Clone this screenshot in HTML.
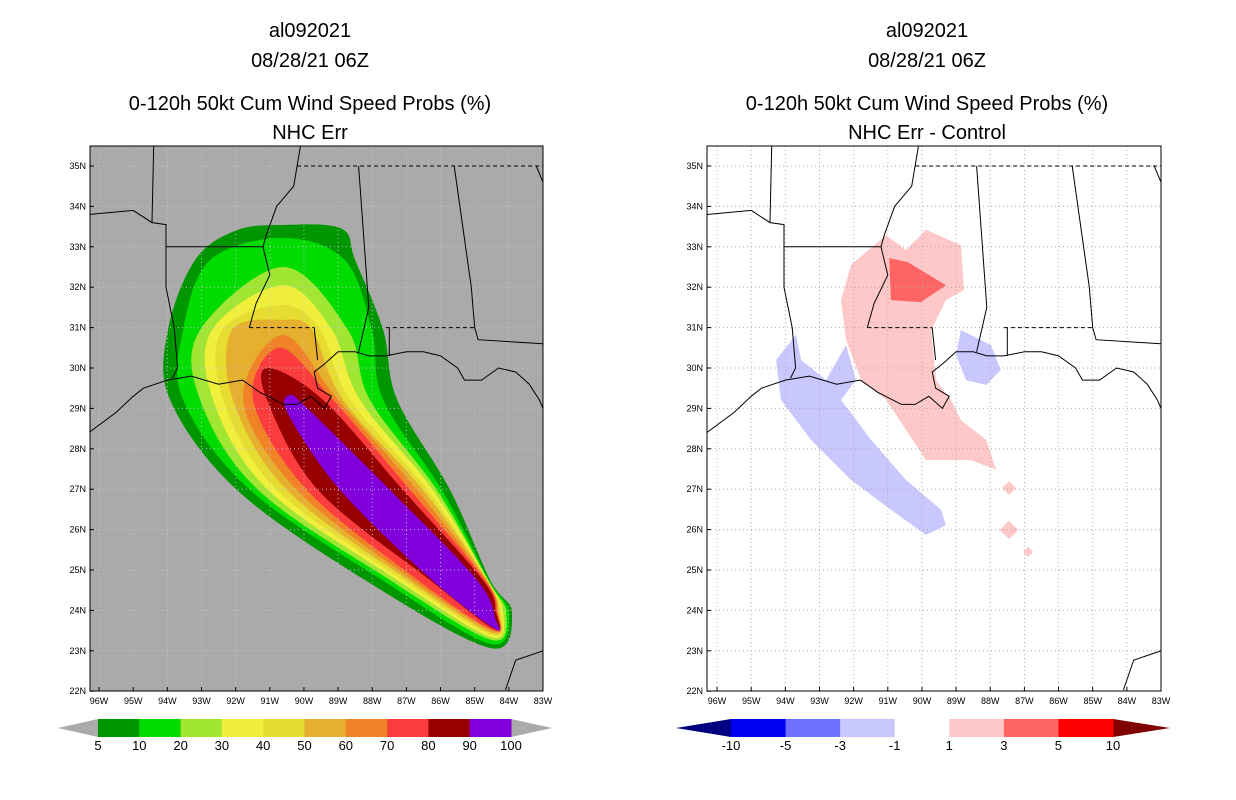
<!DOCTYPE html>
<html><head><meta charset="utf-8">
<style>
body{margin:0;background:#fff;width:1236px;height:800px;overflow:hidden;font-family:"Liberation Sans",sans-serif}
svg{position:absolute;left:0;top:0}
</style></head>
<body>
<svg id="chart" width="1236" height="800" xmlns="http://www.w3.org/2000/svg">
<g font-family="Liberation Sans, sans-serif" font-size="20" text-anchor="middle" fill="#000">
<text x="310" y="37">al092021</text>
<text x="310" y="67">08/28/21 06Z</text>
<text x="310" y="110">0-120h 50kt Cum Wind Speed Probs (%)</text>
<text x="310" y="139">NHC Err</text>
<text x="927" y="37">al092021</text>
<text x="927" y="67">08/28/21 06Z</text>
<text x="927" y="110">0-120h 50kt Cum Wind Speed Probs (%)</text>
<text x="927" y="139">NHC Err - Control</text>
</g>
<defs>
<clipPath id="clipL"><rect x="90" y="146" width="453" height="545"/></clipPath>
<clipPath id="clipR"><rect x="707" y="146" width="454" height="545"/></clipPath>
</defs>
<g id="left"></g>
<g id="right"></g>
<g id="cbars"></g>
</svg>
<script>
// ---- data (lon in degrees W, lat in degrees N) ----
const probLevels = [5,10,20,30,40,50,60,70,80,90];
const probColors = ["#009600","#00dc00","#a0e632","#f0f03c","#e6dc32","#e6af2d","#f08228","#fa3c3c","#960000","#8200dc"];
const contour5  = [[90.61,33.54],[88.9,33.45],[88.50,32.67],[87.68,30.94],[87.27,29.21],[85.72,26.98],[84.55,24.75],[83.91,23.96],[84.55,23.07],[88.21,24.75],[91.96,26.98],[93.92,29.21],[93.98,30.94],[93.19,32.67],[92.0,33.4]];
const contour10 = [[90.61,33.22],[88.80,32.67],[88.01,30.94],[87.68,29.21],[85.96,26.98],[84.58,24.75],[84.0,23.96],[84.55,23.17],[87.71,24.75],[91.58,26.98],[93.54,29.21],[93.54,30.94],[92.75,32.67]];
const contour20 = [[90.61,32.50],[88.71,30.94],[88.07,29.21],[86.10,26.98],[84.61,24.75],[84.08,23.96],[84.52,23.27],[87.48,24.75],[91.34,26.98],[93.04,29.21],[93.04,30.94]];
const contour30 = [[90.61,32.05],[89.18,30.94],[88.36,29.21],[86.22,26.98],[84.61,24.75],[84.17,23.96],[84.52,23.34],[87.27,24.75],[91.05,26.98],[92.66,29.21],[92.69,30.94]];
const contour40 = [[90.61,31.56],[89.53,30.94],[88.65,29.21],[86.37,26.98],[84.64,24.75],[84.23,23.96],[84.49,23.39],[87.10,24.75],[90.79,26.98],[92.37,29.21],[92.40,30.94]];
const contour50 = [[90.61,31.19],[89.76,30.94],[88.86,29.21],[86.51,26.98],[84.64,24.75],[84.29,23.96],[84.49,23.44],[86.95,24.75],[90.50,26.98],[92.08,29.21],[92.11,30.94]];
const contour60 = [[90.61,30.82],[89.00,29.21],[86.69,26.98],[84.67,24.75],[84.32,23.96],[84.46,23.49],[86.81,24.75],[90.20,26.98],[91.78,29.21]];
const contour70 = [[90.70,30.50],[89.15,29.21],[86.89,26.98],[84.70,24.75],[84.35,23.96],[84.46,23.51],[86.66,24.75],[89.91,26.98],[91.49,29.21]];
const contour80 = [[91.05,30.0],[89.44,29.21],[87.10,26.98],[84.76,24.75],[84.38,23.96],[84.43,23.54],[86.31,24.75],[89.59,26.98],[91.08,29.21]];
const contour90 = [[90.41,29.33],[89.9,29.0],[87.48,26.98],[84.93,24.75],[84.38,23.76],[84.43,23.56],[86.25,24.75],[88.94,26.98],[90.47,28.87]];
const contours = [contour5,contour10,contour20,contour30,contour40,contour50,contour60,contour70,contour80,contour90];

const pinkRegion = [[92.08,32.55],[91.05,33.29],[90.47,32.92],[89.88,33.42],[88.86,33.04],[88.77,31.93],[89.30,31.68],[89.73,30.94],[89.59,29.70],[89.15,29.21],[88.86,28.71],[88.12,28.22],[87.83,27.48],[88.56,27.72],[89.88,27.72],[90.47,28.47],[91.05,29.21],[91.78,29.70],[92.22,30.69],[92.37,31.68]];
const redRegion = [[90.96,32.72],[90.91,31.68],[90.03,31.63],[89.30,32.05],[90.41,32.62]];
const pinkDots = [[87.45,27.03,0.2],[87.45,25.99,0.27],[86.89,25.45,0.15]];
const blueRegionW = [[94.27,30.20],[93.69,30.82],[93.54,30.20],[92.81,29.70],[92.22,30.57],[91.93,29.70],[92.37,29.21],[91.49,28.22],[90.47,27.23],[89.44,26.49],[89.30,26.11],[89.88,25.87],[90.91,26.49],[92.08,27.23],[93.25,28.22],[94.13,29.21]];
const blueRegionE = [[88.86,30.94],[87.98,30.57],[87.69,29.95],[88.12,29.58],[88.71,29.70],[89.0,30.32]];

const coast = [[96.3,28.4],[95.5,28.9],[95,29.3],[94.7,29.5],[94,29.7],[93.3,29.8],[92.5,29.6],[91.8,29.7],[91.3,29.4],[90.6,29.1],[90.2,29.1],[89.8,29.3],[89.4,29.0],[89.2,29.3],[89.6,29.5],[89.7,29.9],[89.4,30.1],[89.0,30.4],[88.5,30.4],[88.1,30.3],[87.6,30.3],[87.0,30.4],[86.5,30.4],[86.0,30.3],[85.5,30.0],[85.3,29.7],[84.8,29.7],[84.3,30.0],[83.8,29.9],[83.4,29.6],[83.1,29.2],[83,29]];
const cuba = [[84.1,22.03],[83.8,22.77],[83,23.0]];
const borders = [
 [[94.04,33.0],[94.04,32.0],[93.8,31.0],[93.7,30.0],[93.85,29.75]],
 [[94.04,33.0],[91.2,33.0]],
 [[90.1,35.5],[90.3,34.5],[90.8,34.0],[91.1,33.3],[91.2,33.0],[91.0,32.3],[91.4,31.6],[91.6,31.0]],
 [[89.7,31.0],[89.6,30.2]],
 [[88.4,35.0],[88.1,31.5],[88.4,30.4]],
 [[85.6,35.0],[85.1,32.0],[85.0,31.0],[84.9,30.7],[83,30.6]],
 [[87.5,31.0],[87.5,30.3]],
 [[94.4,35.5],[94.45,33.6]],
 [[96.3,33.8],[95,33.9],[94.45,33.6],[94.04,33.55],[94.04,33.0]],
 [[83.2,35.0],[82.9,34.4]]
];
const dashedBorders = [
 [[90.2,35.0],[83,35.0]],
 [[91.6,31.0],[89.7,31.0]],
 [[87.6,31.0],[85.0,31.0]]
];
const latTicks = [22,23,24,25,26,27,28,29,30,31,32,33,34,35];
const lonTicks = [96,95,94,93,92,91,90,89,88,87,86,85,84,83];
const cbLeftLabels = ["5","10","20","30","40","50","60","70","80","90","100"];
const cbRightLabels = ["-10","-5","-3","-1","1","3","5","10"];
const cbRightColors = ["#0000f0","#6e6eff","#c8c8ff","#ffffff","#ffc8c8","#ff6464","#ff0000"];

// ---- helpers ----
const NS="http://www.w3.org/2000/svg";
function mk(tag,attrs,parent){const e=document.createElementNS(NS,tag);for(const k in attrs)e.setAttribute(k,attrs[k]);parent.appendChild(e);return e;}
const PX_LON=34.15, PX_LAT=40.4;
function xS(xr){return lon=>xr-(lon-83)*PX_LON;}
function yS(lat){return 166+(35-lat)*PX_LAT;}
function pathOf(pts,X,close){return pts.map((p,i)=>(i?'L':'M')+X(p[0]).toFixed(1)+','+yS(p[1]).toFixed(1)).join('')+(close?'Z':'');}
function smoothPath(pts,X){
  const P=pts.map(p=>[X(p[0]),yS(p[1])]);const n=P.length;
  let d='M'+P[0][0].toFixed(1)+','+P[0][1].toFixed(1);
  for(let i=0;i<n;i++){
    const p0=P[(i-1+n)%n],p1=P[i],p2=P[(i+1)%n],p3=P[(i+2)%n];
    const c1=[p1[0]+(p2[0]-p0[0])/6,p1[1]+(p2[1]-p0[1])/6];
    const c2=[p2[0]-(p3[0]-p1[0])/6,p2[1]-(p3[1]-p1[1])/6];
    d+=`C${c1[0].toFixed(1)},${c1[1].toFixed(1)} ${c2[0].toFixed(1)},${c2[1].toFixed(1)} ${p2[0].toFixed(1)},${p2[1].toFixed(1)}`;
  }
  return d+'Z';
}

function drawPanel(g,xr,xl,clip,bg,isLeft){
  const X=xS(xr);
  const frame=mk('rect',{x:xl,y:146,width:xr-xl,height:545,fill:bg},g);
  
  
  const c=mk('g',{'clip-path':'url(#'+clip+')'},g);
  
  
  if(isLeft){
    probLevels.forEach((lv,li)=>{
      const p=mk('path',{d:smoothPath(contours[li],X),fill:probColors[li]},c);
      
      
    });
  } else {
    const regs=[[blueRegionW,'#c8c8ff','blue-region-west'],[blueRegionE,'#c8c8ff','blue-region-east'],[pinkRegion,'#ffc8c8','pink-region'],[redRegion,'#ff6464','red-region']];
    regs.forEach(rg=>{const p=mk('path',{d:pathOf(rg[0],X,true),fill:rg[1]},c);
      
      });
    pinkDots.forEach(dt=>{const cx=X(dt[0]),cy=yS(dt[1]),s=dt[2]*PX_LON;
      const p=mk('path',{d:`M${cx},${cy-s}L${cx+s},${cy}L${cx},${cy+s}L${cx-s},${cy}Z`,fill:'#ffc8c8'},c);
      
      });
  }
  const gridG=mk('g',{stroke:isLeft?'#c4c4d8':'#aaa','stroke-width':1,'stroke-dasharray':'1,3'},c);
  
  
  lonTicks.forEach(l=>mk('line',{x1:X(l),x2:X(l),y1:146,y2:691},gridG));
  latTicks.forEach(l=>mk('line',{x1:xl,x2:xr,y1:yS(l),y2:yS(l)},gridG));
  const lg=mk('g',{fill:'none',stroke:'#000','stroke-width':1},c);
  
  
  mk('path',{d:pathOf(coast,X,false)},lg);
  mk('path',{d:pathOf(cuba,X,false)},lg);
  borders.forEach(b=>mk('path',{d:pathOf(b,X,false)},lg));
  dashedBorders.forEach(b=>mk('path',{d:pathOf(b,X,false),'stroke-dasharray':'4,3'},lg));
  const fr=mk('rect',{x:xl,y:146,width:xr-xl,height:545,fill:'none',stroke:'#000','stroke-width':1},g);
  
  
  const tg=mk('g',{'font-size':9,fill:'#000','font-family':'Liberation Sans, sans-serif'},g);
  
  
  latTicks.forEach(l=>{const t=mk('text',{x:xl-4,y:yS(l)+3,'text-anchor':'end'},tg);t.textContent=l+'N';
    mk('line',{x1:xl,x2:xl+4,y1:yS(l),y2:yS(l),stroke:'#000'},tg);});
  lonTicks.forEach(l=>{const t=mk('text',{x:X(l),y:704,'text-anchor':'middle'},tg);t.textContent=l+'W';
    mk('line',{x1:X(l),x2:X(l),y1:691,y2:687,stroke:'#000'},tg);});
}
drawPanel(document.getElementById('left'),543,90,'clipL','#aaaaaa',true);
drawPanel(document.getElementById('right'),1161,707,'clipR','#ffffff',false);

// colorbars
const cb=document.getElementById('cbars');
function colorbar(x0,x1,tl,tr,colors,leftTri,rightTri,labels,name){
  const g=mk('g',{},cb);
  
  
  const y0=719,y1=737,ym=728,w=(x1-x0)/colors.length;
  mk('path',{d:`M${tl},${ym}L${x0},${y0}L${x0},${y1}Z`,fill:leftTri},g);
  mk('path',{d:`M${tr},${ym}L${x1},${y0}L${x1},${y1}Z`,fill:rightTri},g);
  colors.forEach((c,i)=>mk('rect',{x:x0+i*w,y:y0,width:w+0.5,height:y1-y0,fill:c},g));
  labels.forEach((l,i)=>{const t=mk('text',{x:x0+i*w,y:750,'text-anchor':'middle','font-size':13,'font-family':'Liberation Sans, sans-serif'},g);t.textContent=l;});
}
colorbar(98,511,58,552,probColors,'#aaaaaa','#aaaaaa',cbLeftLabels,'left-colorbar');
colorbar(731,1113,676,1170,cbRightColors,'#000080','#800000',cbRightLabels,'right-colorbar');
</script>
</body></html>
